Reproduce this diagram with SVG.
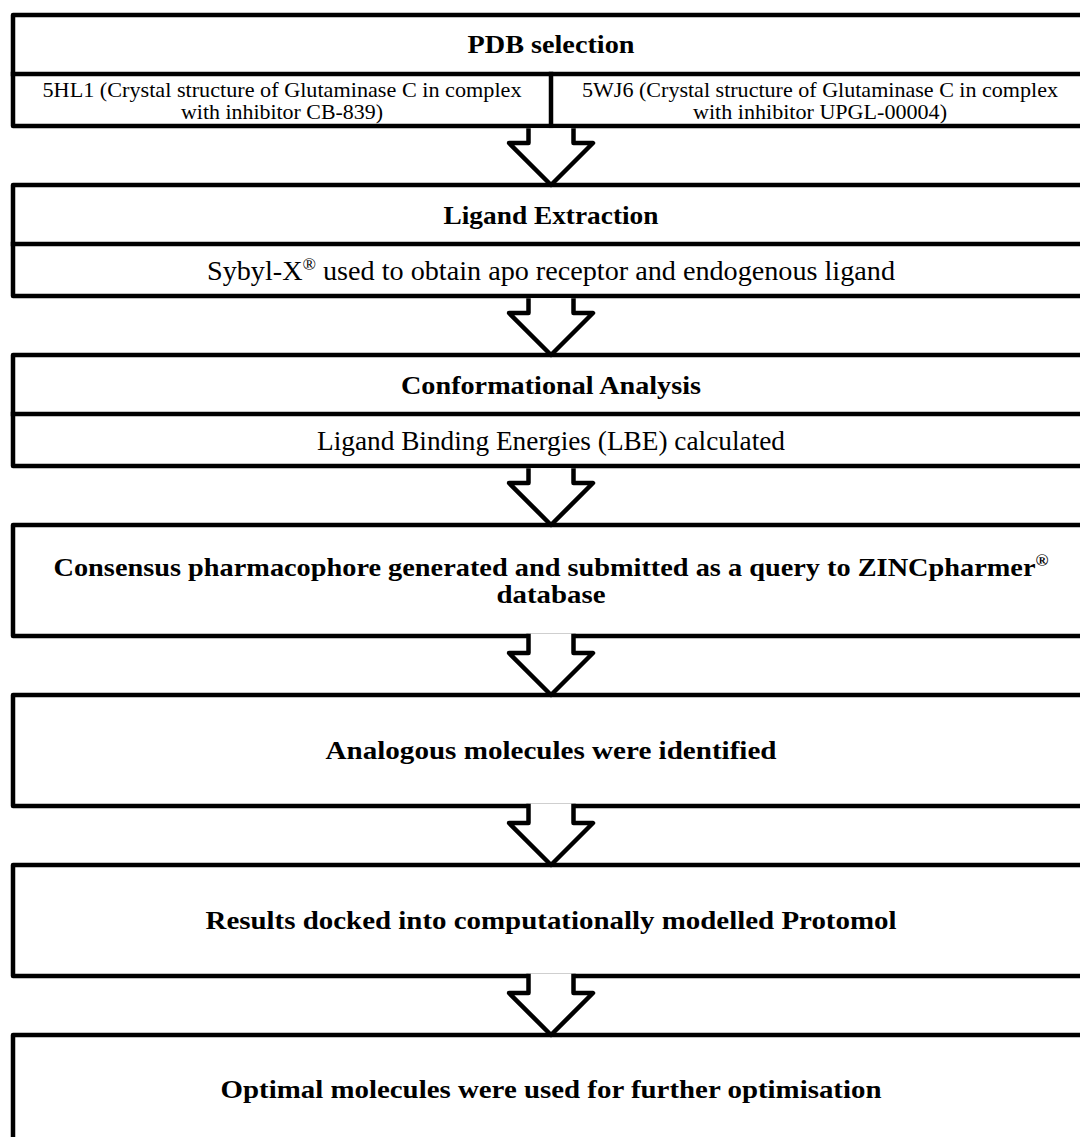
<svg xmlns="http://www.w3.org/2000/svg" width="1080" height="1137" viewBox="0 0 1080 1137">
<style>
.box{fill:#fff;stroke:#000;stroke-width:4.5;stroke-linejoin:round}
.ln{fill:none;stroke:#000;stroke-width:4.5;stroke-linecap:square}
.arr{fill:#fff;stroke:#000;stroke-width:4.5;stroke-linejoin:round}
.t{font-family:"Liberation Serif",serif;fill:#000;text-anchor:middle}
.b{font-weight:bold;font-size:26px}
.r{font-size:27px}
.s{font-size:21px}
</style>
<rect width="1080" height="1137" fill="#fff"/>
<g id="n1">
<rect class="box" x="13" y="15" width="1076" height="111"/>
<line class="ln" x1="13" y1="74" x2="1089" y2="74"/>
<line class="ln" x1="551" y1="74" x2="551" y2="126"/>
<text class="t b" x="551" y="53" textLength="167" lengthAdjust="spacingAndGlyphs">PDB selection</text>
<text class="t s" x="282" y="97" textLength="479" lengthAdjust="spacingAndGlyphs">5HL1 (Crystal structure of Glutaminase C in complex</text>
<text class="t s" x="282" y="119" textLength="202" lengthAdjust="spacingAndGlyphs">with inhibitor CB-839)</text>
<text class="t s" x="820" y="97" textLength="476" lengthAdjust="spacingAndGlyphs">5WJ6 (Crystal structure of Glutaminase C in complex</text>
<text class="t s" x="820" y="119" textLength="254" lengthAdjust="spacingAndGlyphs">with inhibitor UPGL-00004)</text>
</g>
<g id="n2">
<rect class="box" x="13" y="185" width="1076" height="111"/>
<line class="ln" x1="13" y1="244" x2="1089" y2="244"/>
<text class="t b" x="551" y="224" textLength="215" lengthAdjust="spacingAndGlyphs">Ligand Extraction</text>
<text class="t r" x="551" y="280" textLength="688" lengthAdjust="spacingAndGlyphs">Sybyl-X<tspan font-size="17" dy="-10">®</tspan><tspan dy="10"> used to obtain apo receptor and endogenous ligand</tspan></text>
</g>
<g id="n3">
<rect class="box" x="13" y="355" width="1076" height="111"/>
<line class="ln" x1="13" y1="414" x2="1089" y2="414"/>
<text class="t b" x="551" y="394" textLength="300" lengthAdjust="spacingAndGlyphs">Conformational Analysis</text>
<text class="t r" x="551" y="450" textLength="468" lengthAdjust="spacingAndGlyphs">Ligand Binding Energies (LBE) calculated</text>
</g>
<g id="n4">
<rect class="box" x="13" y="525" width="1076" height="111"/>
<text class="t b" x="551" y="576" textLength="995" lengthAdjust="spacingAndGlyphs">Consensus pharmacophore generated and submitted as a query to ZINCpharmer<tspan font-size="16" dy="-10">®</tspan></text>
<text class="t b" x="551" y="603" textLength="109" lengthAdjust="spacingAndGlyphs">database</text>
</g>
<g id="n5">
<rect class="box" x="13" y="695" width="1076" height="111"/>
<text class="t b" x="551" y="759" textLength="451" lengthAdjust="spacingAndGlyphs">Analogous molecules were identified</text>
</g>
<g id="n6">
<rect class="box" x="13" y="865" width="1076" height="111"/>
<text class="t b" x="551" y="929" textLength="691" lengthAdjust="spacingAndGlyphs">Results docked into computationally modelled Protomol</text>
</g>
<g id="n7">
<rect class="box" x="13" y="1035" width="1076" height="111"/>
<text class="t b" x="551" y="1098" textLength="661" lengthAdjust="spacingAndGlyphs">Optimal molecules were used for further optimisation</text>
</g>
<g id="connectors">
<path class="arr" d="M528.5,128.3 V143 H509 L551,185 L593,143 H573.5 V128.3"/>
<path class="arr" d="M528.5,298.3 V313 H509 L551,355 L593,313 H573.5 V298.3"/>
<path class="arr" d="M528.5,468.3 V483 H509 L551,525 L593,483 H573.5 V468.3"/>
<path class="arr" d="M528.5,633.7 V653 H509 L551,695 L593,653 H573.5 V633.7"/>
<path class="arr" d="M528.5,803.7 V823 H509 L551,865 L593,823 H573.5 V803.7"/>
<path class="arr" d="M528.5,973.7 V993 H509 L551,1035 L593,993 H573.5 V973.7"/>
</g>
</svg>
